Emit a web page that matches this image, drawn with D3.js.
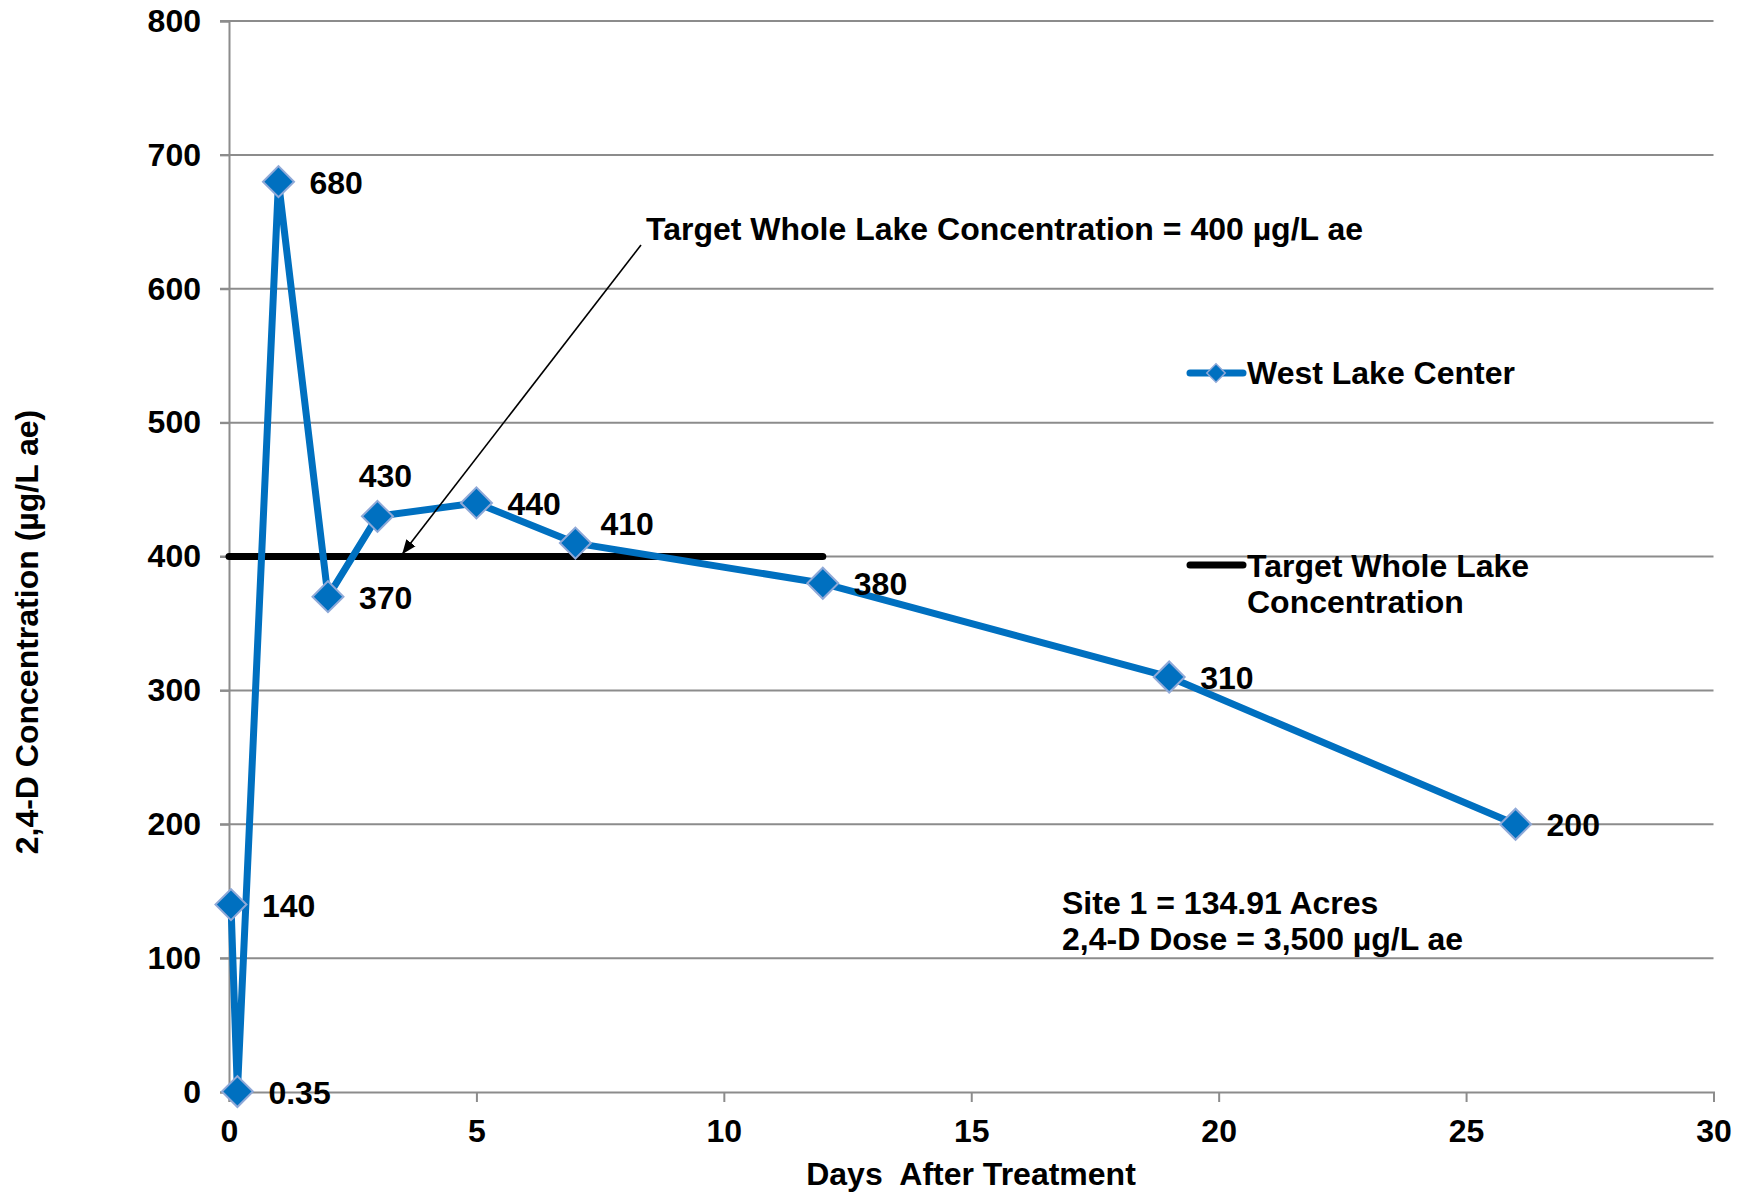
<!DOCTYPE html>
<html><head><meta charset="utf-8">
<script src="https://cdn.jsdelivr.net/npm/d3@7"></script>
<style>
html,body{margin:0;padding:0;background:#fff;}
text{font-family:"Liberation Sans",Arial,sans-serif;font-weight:bold;fill:#000;}
</style></head>
<body>
<svg id="chart" width="1748" height="1194"></svg>
<script>
const days = [0.04, 0.17, 1, 2, 3, 5, 7, 12, 19, 26];
const concentration = [140, 0.35, 680, 370, 430, 440, 410, 380, 310, 200];
const pointLabels = ["140", "0.35", "680", "370", "430", "440", "410", "380", "310", "200"];
const labelPlacement = ["right", "right", "right", "right", "above", "right", "upright", "right", "right", "right"];
const targetDays = [0, 12];
const targetValue = [400, 400];
const xTicks = [0, 5, 10, 15, 20, 25, 30];
const yTicks = [0, 100, 200, 300, 400, 500, 600, 700, 800];
const seriesName = "West Lake Center";
const targetName = ["Target Whole Lake", "Concentration"];
const annotation = "Target Whole Lake Concentration = 400 µg/L ae";
const siteNotes = ["Site 1 = 134.91 Acres", "2,4-D Dose = 3,500 µg/L ae"];
const xTitle = "Days  After Treatment";
const yTitle = "2,4-D Concentration (µg/L ae)";

const svg = d3.select("#chart");
const x = d3.scaleLinear().domain([0, 30]).range([229, 1713.5]);
const y = d3.scaleLinear().domain([0, 800]).range([1092, 21]);
const blue = "#0070C0";
const gridCol = "#8c8c8c";
const fs = 32;

// gridlines
svg.append("g").selectAll("line").data(yTicks.filter(d => d > 0)).join("line")
  .attr("x1", x(0) - 9).attr("x2", x(30)).attr("y1", d => y(d)).attr("y2", d => y(d))
  .attr("stroke", gridCol).attr("stroke-width", 2);

// y axis
const yAxis = svg.append("g").attr("transform", `translate(${x(0)},0)`)
  .call(d3.axisLeft(y).tickValues(yTicks).tickSize(9).tickPadding(19));
yAxis.select(".domain").attr("stroke", gridCol).attr("stroke-width", 2);
yAxis.selectAll(".tick line").attr("stroke", gridCol).attr("stroke-width", 2);
yAxis.selectAll(".tick text").attr("font-size", fs).attr("font-family", "Liberation Sans, Arial, sans-serif").attr("font-weight", "bold").attr("fill", "#000");

// x axis
const xAxis = svg.append("g").attr("transform", `translate(0,${y(0)})`)
  .call(d3.axisBottom(x).tickValues(xTicks).tickSize(10).tickPadding(17));
xAxis.select(".domain").attr("stroke", gridCol).attr("stroke-width", 2);
xAxis.selectAll(".tick line").attr("stroke", gridCol).attr("stroke-width", 2);
xAxis.selectAll(".tick text").attr("font-size", fs).attr("font-family", "Liberation Sans, Arial, sans-serif").attr("font-weight", "bold").attr("fill", "#000");

// target line
const tData = targetDays.map((d, i) => [d, targetValue[i]]);
svg.append("path").datum(tData)
  .attr("d", d3.line().x(d => x(d[0])).y(d => y(d[1])))
  .attr("stroke", "#000").attr("stroke-width", 7).attr("stroke-linecap", "round").attr("fill", "none");

// series line
const sData = days.map((d, i) => ({x: d, y: concentration[i], label: pointLabels[i], place: labelPlacement[i]}));
svg.append("path").datum(sData)
  .attr("d", d3.line().x(d => x(d.x)).y(d => y(d.y)))
  .attr("stroke", blue).attr("stroke-width", 7).attr("stroke-linejoin", "round").attr("fill", "none");

const diamond = d3.symbol().type(d3.symbolSquare).size(480);
svg.append("g").selectAll("path").data(sData).join("path")
  .attr("d", diamond)
  .attr("transform", d => `translate(${x(d.x)},${y(d.y)}) rotate(45)`)
  .attr("fill", blue).attr("stroke", "#8fa9d8").attr("stroke-width", 2);

// point labels
svg.append("g").selectAll("text").data(sData).join("text")
  .attr("x", d => d.place === "above" ? x(d.x) + 8 : d.place === "upright" ? x(d.x) + 25 : x(d.x) + 31)
  .attr("y", d => d.place === "above" ? y(d.y) - 40 : d.place === "upright" ? y(d.y) - 19 : y(d.y) + 1)
  .attr("text-anchor", d => d.place === "above" ? "middle" : "start")
  .attr("dominant-baseline", "central")
  .attr("font-size", fs)
  .text(d => d.label);

// annotation arrow
svg.append("defs").append("marker").attr("id", "arr").attr("viewBox", "0 0 10 10")
  .attr("refX", 9).attr("refY", 5).attr("markerWidth", 9).attr("markerHeight", 9).attr("orient", "auto")
  .append("path").attr("d", "M0,1 L10,5 L0,9 Z").attr("fill", "#000");
svg.append("line").attr("x1", 641).attr("y1", 245).attr("x2", 403).attr("y2", 553)
  .attr("stroke", "#000").attr("stroke-width", 1.6).attr("marker-end", "url(#arr)");
svg.append("text").attr("x", 646).attr("y", 229).attr("dominant-baseline", "central").attr("font-size", fs).text(annotation);

// legend
const lg = svg.append("g");
lg.append("line").attr("x1", 1190).attr("x2", 1243).attr("y1", 373).attr("y2", 373)
  .attr("stroke", blue).attr("stroke-width", 7).attr("stroke-linecap", "round");
lg.append("path").attr("d", d3.symbol().type(d3.symbolSquare).size(170))
  .attr("transform", "translate(1216,373) rotate(45)").attr("fill", blue).attr("stroke", "#8fa9d8").attr("stroke-width", 1.5);
lg.append("text").attr("x", 1247).attr("y", 373).attr("dominant-baseline", "central").attr("font-size", fs).text(seriesName);
lg.append("line").attr("x1", 1190).attr("x2", 1243).attr("y1", 565).attr("y2", 565)
  .attr("stroke", "#000").attr("stroke-width", 7).attr("stroke-linecap", "round");
lg.selectAll("text.t").data(targetName).join("text").attr("class", "t")
  .attr("x", 1247).attr("y", (d, i) => 566 + i * 36).attr("dominant-baseline", "central").attr("font-size", fs).text(d => d);

// notes
svg.append("g").selectAll("text").data(siteNotes).join("text")
  .attr("x", 1062).attr("y", (d, i) => 903 + i * 36).attr("dominant-baseline", "central").attr("font-size", fs).text(d => d);

// axis titles
svg.append("text").attr("x", 971).attr("y", 1174).attr("text-anchor", "middle").attr("dominant-baseline", "central")
  .attr("font-size", fs).attr("xml:space", "preserve").style("white-space", "pre").text(xTitle);
svg.append("text").attr("transform", "translate(27,632) rotate(-90)").attr("text-anchor", "middle").attr("dominant-baseline", "central")
  .attr("font-size", fs).text(yTitle);
</script>
</body></html>
